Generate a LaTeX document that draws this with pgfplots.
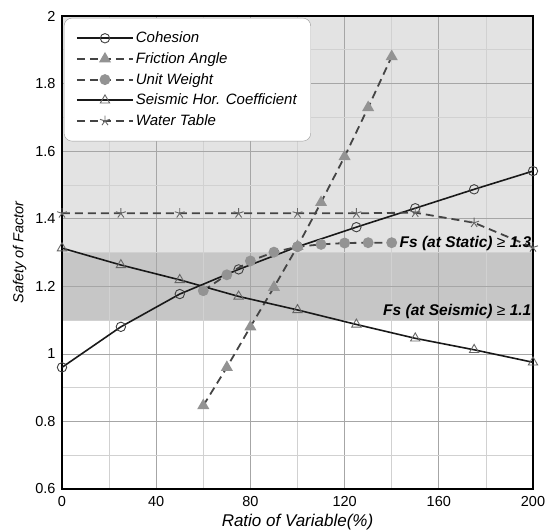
\documentclass[border=0pt]{standalone}
\usepackage{pgfplots}
\pgfplotsset{compat=1.18}
\usepackage{fontspec}
\setmainfont{Liberation Sans}
\definecolor{lightband}{HTML}{E3E3E3}
\definecolor{darkband}{HTML}{C6C6C6}
\definecolor{mgray}{HTML}{939393}
\definecolor{dgray}{HTML}{444444}
\definecolor{egray}{HTML}{666666}

\begin{document}
\begin{tikzpicture}
\begin{axis}[
  set layers,
  scale only axis, width=471pt, height=473pt,
  xmin=0, xmax=200, ymin=0.6, ymax=2,
  xtick={0,40,80,120,160,200}, minor x tick num=1,
  ytick={0.6,0.8,1,1.2,1.4,1.6,1.8,2}, minor y tick num=1,
  grid=both,
  major grid style={draw=black!35, line width=0.7pt},
  minor grid style={draw=black!18, line width=0.6pt},
  tick style={draw=none},
  axis line style={line width=1.8pt},
  /pgf/number format/assume math mode=true,
  tick label style={font=\fontsize{14.5}{16}\selectfont},
  xticklabel style={yshift=-4pt},
  yticklabel style={xshift=-3pt},
  xlabel={\itshape Ratio of Variable(\%)},
  ylabel={\itshape Safety of Factor},
  xlabel style={font=\fontsize{17}{19}\selectfont, yshift=-1pt},
  ylabel style={font=\fontsize{14.5}{16}\selectfont, yshift=2pt},
  legend style={at={(0.004,0.996)}, anchor=north west, rounded corners=8pt,
    draw=black!40, fill=white, font=\fontsize{15}{17}\selectfont\itshape,
    row sep=4.3pt, inner xsep=12pt, inner ysep=12pt,
    /tikz/every even column/.append style={column sep=7pt}},
  legend cell align=left,
  legend image code/.code={\draw[mark repeat=2,mark phase=2] plot coordinates {(0pt,0pt)(28pt,0pt)(56pt,0pt)};},
  mark options={solid},
]
% bands
\addplot[draw=none, fill=lightband, on layer=axis background, forget plot]
  coordinates {(0,1.3) (200,1.3) (200,2) (0,2) (0,1.3)};
\addplot[draw=none, fill=darkband, on layer=axis background, forget plot]
  coordinates {(0,1.1) (200,1.1) (200,1.3) (0,1.3) (0,1.1)};

% Cohesion
\addplot[black!90, line width=1.6pt, mark=o, mark size=4.7pt, mark options={solid, draw=black!75, line width=0.9pt}]
  coordinates {(0,0.960) (25,1.080) (50,1.177) (75,1.250) (100,1.317) (125,1.375) (150,1.431) (175,1.487) (200,1.541)};
\addlegendentry{Cohesion}

% Friction Angle
\addplot[dgray, line width=1.8pt, dash pattern=on 8pt off 5pt, mark=triangle*, mark size=5.2pt, mark options={solid, fill=mgray, draw=mgray}]
  coordinates {(60,0.847) (70,0.960) (80,1.080) (90,1.197) (100,1.318) (110,1.448) (120,1.584) (130,1.729) (140,1.880)};
\addlegendentry{Friction Angle}

% Unit Weight
\addplot[dgray, line width=1.8pt, dash pattern=on 8pt off 5pt, mark=*, mark size=4.5pt, mark options={solid, fill=mgray, draw=mgray}]
  coordinates {(60,1.187) (70,1.234) (80,1.275) (90,1.301) (100,1.317) (110,1.324) (120,1.328) (130,1.329) (140,1.329)};
\addlegendentry{Unit Weight}

% Seismic Hor. Coefficient
\addplot[black!90, line width=1.6pt, mark=triangle, mark size=5.4pt, mark options={solid, draw=egray, line width=0.9pt}]
  coordinates {(0,1.313) (25,1.263) (50,1.219) (75,1.170) (100,1.130) (125,1.087) (150,1.046) (175,1.012) (200,0.975)};
\addlegendentry{Seismic Hor. Coefficient}

% Water Table
\addplot[dgray, line width=1.8pt, dash pattern=on 8pt off 5pt, mark=star, mark size=5.2pt, mark options={solid, draw=egray, line width=0.9pt}]
  coordinates {(0,1.416) (25,1.416) (50,1.416) (75,1.416) (100,1.416) (125,1.416) (150,1.418) (175,1.388) (200,1.315)};
\addlegendentry{Water Table}

\node[anchor=south east, inner sep=1.5pt, font=\fontsize{15.5}{17}\selectfont\bfseries\itshape]
  at (axis cs:200,1.3) {Fs (at Static) {\mdseries ≥} 1.3};
\node[anchor=south east, inner sep=1.5pt, font=\fontsize{15.5}{17}\selectfont\bfseries\itshape]
  at (axis cs:200,1.1) {Fs (at Seismic) {\mdseries ≥} 1.1};
\end{axis}
\pgfresetboundingbox
\path (-62pt,-43pt) rectangle (485pt,489pt);
\end{tikzpicture}
\end{document}
